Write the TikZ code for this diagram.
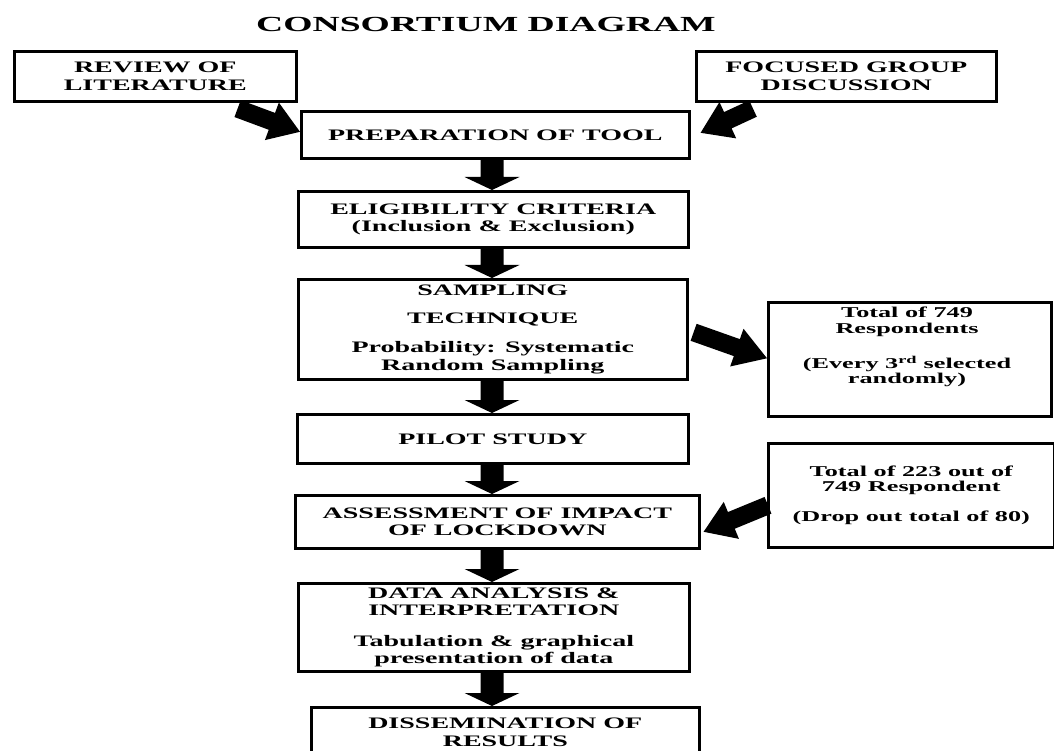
\documentclass[tikz,border=0pt]{standalone}
\usepackage{fontspec}
\setmainfont{Liberation Serif}[FakeStretch=1.75]
\usetikzlibrary{calc}
\newcommand{\blockarr}[5]{%
  \coordinate (ba-h) at ($(#2)!#5!(#1)$);
  \fill ($(#1)!#3!90:(#2)$) -- ($(ba-h)!#3!-90:(#1)$) -- ($(ba-h)!#4!-90:(#1)$) -- (#2) -- ($(ba-h)!#4!90:(#1)$) -- ($(ba-h)!#3!90:(#1)$) -- ($(#1)!#3!-90:(#2)$) -- cycle;}
\begin{document}
\begin{tikzpicture}[x=1pt,y=-1pt,
  box/.style={draw, line width=2.6pt, rectangle, inner sep=0pt, align=center,
    anchor=north west, font=\fontsize{16}{17.5}\selectfont\bfseries},
  rbox/.style={box, font=\fontsize{15}{15.5}\selectfont\bfseries},
  txt/.style={inner sep=0pt, align=center, font=\fontsize{15}{15.5}\selectfont\bfseries},
]
\useasboundingbox (0,0) rectangle (1054,751);
\clip (0,0) rectangle (1054,751);

\node[font=\fontsize{21.5}{25}\selectfont\bfseries, anchor=base, inner sep=0pt] (title) at (486,32) {CONSORTIUM DIAGRAM};

\node[box, minimum width=282pt, minimum height=50pt] (review) at (13,50) {REVIEW OF\\LITERATURE};
\node[box, minimum width=300pt, minimum height=50pt] (fgd) at (695,50) {FOCUSED GROUP\\DISCUSSION};
\node[box, minimum width=388pt, minimum height=47pt] (prep) at (300,110) {PREPARATION OF TOOL};
\node[box, minimum width=390pt, minimum height=56pt] (elig) at (297,190) {ELIGIBILITY CRITERIA\\(Inclusion \& Exclusion)};
\node[box, minimum width=389pt, minimum height=100pt, font=\fontsize{16}{18.5}\selectfont\bfseries] (samp) at (297,278) {SAMPLING\\[9.5pt]TECHNIQUE\\[10.5pt]Probability: Systematic\\Random Sampling};
\node[box, minimum width=391pt, minimum height=49pt] (pilot) at (296,413) {PILOT STUDY};
\node[box, minimum width=404pt, minimum height=53pt] (assess) at (294,494) {ASSESSMENT OF IMPACT\\OF LOCKDOWN};
\node[box, minimum width=391pt, minimum height=88pt, font=\fontsize{16}{16.8}\selectfont\bfseries] (data) at (297,582) {DATA ANALYSIS \&\\INTERPRETATION\\[15pt]Tabulation \& graphical\\presentation of data};
\node[box, minimum width=388pt, minimum height=50pt] (dissem) at (310,706) {DISSEMINATION OF\\RESULTS};

\node[rbox, minimum width=283pt, minimum height=114pt] (t749) at (767,301) {};
\node[txt, anchor=north] (t749txt) at (907,307) {Total of 749\\Respondents\\[18.5pt](Every 3\textsuperscript{rd} selected\\randomly)};
\node[rbox, minimum width=286pt, minimum height=104pt] (t223) at (767,442) {Total of 223 out of\\749 Respondent\\[14.5pt](Drop out total of 80)};

% vertical arrows
\coordinate (axis) at (492,0);
\foreach \a/\b in {prep/elig, elig/samp, samp/pilot, pilot/assess, assess/data, data/dissem}{
  \coordinate (va) at (\a.south -| axis);
  \coordinate (vb) at (\b.north -| axis);
  \blockarr{va}{vb}{11.5pt}{27.5pt}{13pt}
}

% diagonal arrows
\coordinate (d1a) at ($(review.south east)+(-60,6)$);
\coordinate (d1b) at ($(prep.west)+(0,-3)$);
\blockarr{d1a}{d1b}{9pt}{20pt}{30pt}
\coordinate (d2a) at ($(fgd.south west)+(58,6)$);
\coordinate (d2b) at ($(prep.east)+(10,-2)$);
\blockarr{d2a}{d2b}{9pt}{20pt}{30pt}
\coordinate (d3a) at ($(samp.east)+(5,3)$);
\coordinate (d3b) at ($(t749.west)+(0,-1)$);
\blockarr{d3a}{d3b}{9pt}{20pt}{32pt}
\coordinate (d4a) at ($(t223.west)+(1,10)$);
\coordinate (d4b) at ($(assess.east)+(3,10)$);
\blockarr{d4a}{d4b}{9pt}{20pt}{30pt}
\end{tikzpicture}
\end{document}
